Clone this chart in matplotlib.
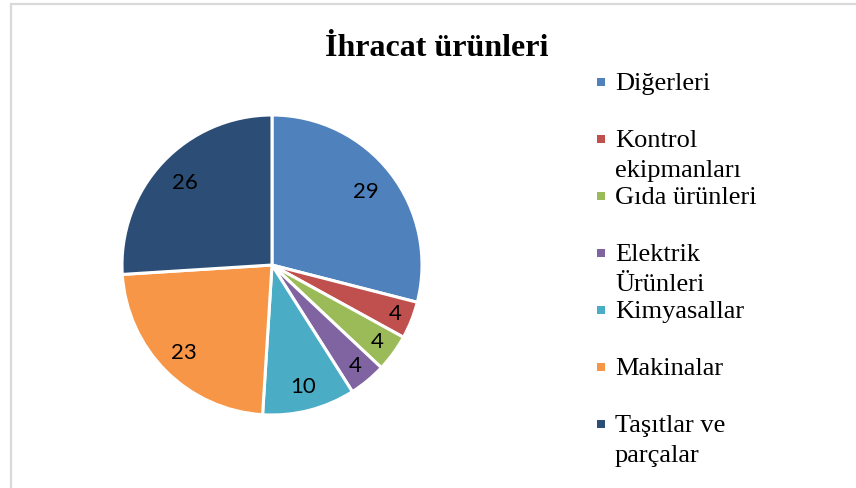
import matplotlib
matplotlib.use('Agg')
from matplotlib import pyplot as plt
from matplotlib.patches import Rectangle
import numpy as np

# chart data
categories = ['Diğerleri', 'Kontrol\nekipmanları', 'Gıda ürünleri', 'Elektrik\nÜrünleri',
              'Kimyasallar', 'Makinalar', 'Taşıtlar ve\nparçalar']
values = [29, 4, 4, 4, 10, 23, 26]
colors = ['#4F81BD', '#C0504D', '#9BBB59', '#8064A2', '#4BACC6', '#F79646', '#2C4D75']
title = 'İhracat ürünleri'

W, H = 856, 488
fig = plt.figure(figsize=(W / 100, H / 100), dpi=100)
fig.patch.set_facecolor('white')


def fx(px):
    return px / W


def fy(py):
    return 1 - py / H


# light grey chart border (only left and top are inside the picture)
fig.add_artist(Rectangle((fx(11), fy(H + 10)), fx(W + 20), (H + 6) / H,
                         transform=fig.transFigure, fill=False,
                         edgecolor='#D9D9D9', linewidth=1.6))

# pie, centre (272, 265), radius 150 px
cx, cy, r = 272, 265, 150
ax = fig.add_axes([fx(cx - r), fy(cy + r), 2 * r / W, 2 * r / H])
wedges, _ = ax.pie(values, colors=colors, startangle=90, counterclock=False,
                   wedgeprops=dict(edgecolor='white', linewidth=2.2))
ax.set_xlim(-1, 1)
ax.set_ylim(-1, 1)
ax.set_aspect('equal')
ax.axis('off')

# data labels (small slices sit further out, like Office "best fit")
label_dist = [0.79, 0.88, 0.87, 0.87, 0.84, 0.83, 0.80]
for w, v, d in zip(wedges, values, label_dist):
    ang = np.deg2rad((w.theta1 + w.theta2) / 2)
    ax.text(d * np.cos(ang), d * np.sin(ang), str(v), ha='center', va='center',
            fontsize=16, family='Lato', color='black')

# title
fig.text(fx(437), fy(56), title, ha='center', va='baseline',
         fontsize=23, fontweight='bold', family='Liberation Serif')

# legend, drawn entry by entry
base0, step, line_gap = 90, 57.0, 30
for i, (lab, c) in enumerate(zip(categories, colors)):
    base = base0 + i * step
    fig.add_artist(Rectangle((fx(597), fy(base - 4)), 8 / W, 8 / H,
                             transform=fig.transFigure, facecolor=c,
                             edgecolor='none'))
    for j, line in enumerate(lab.split('\n')):
        fig.text(fx(615), fy(base + j * line_gap), line, ha='left', va='baseline',
                 fontsize=19, family='Liberation Serif', color='black')

fig.savefig('out.png', dpi=100, facecolor='white')
